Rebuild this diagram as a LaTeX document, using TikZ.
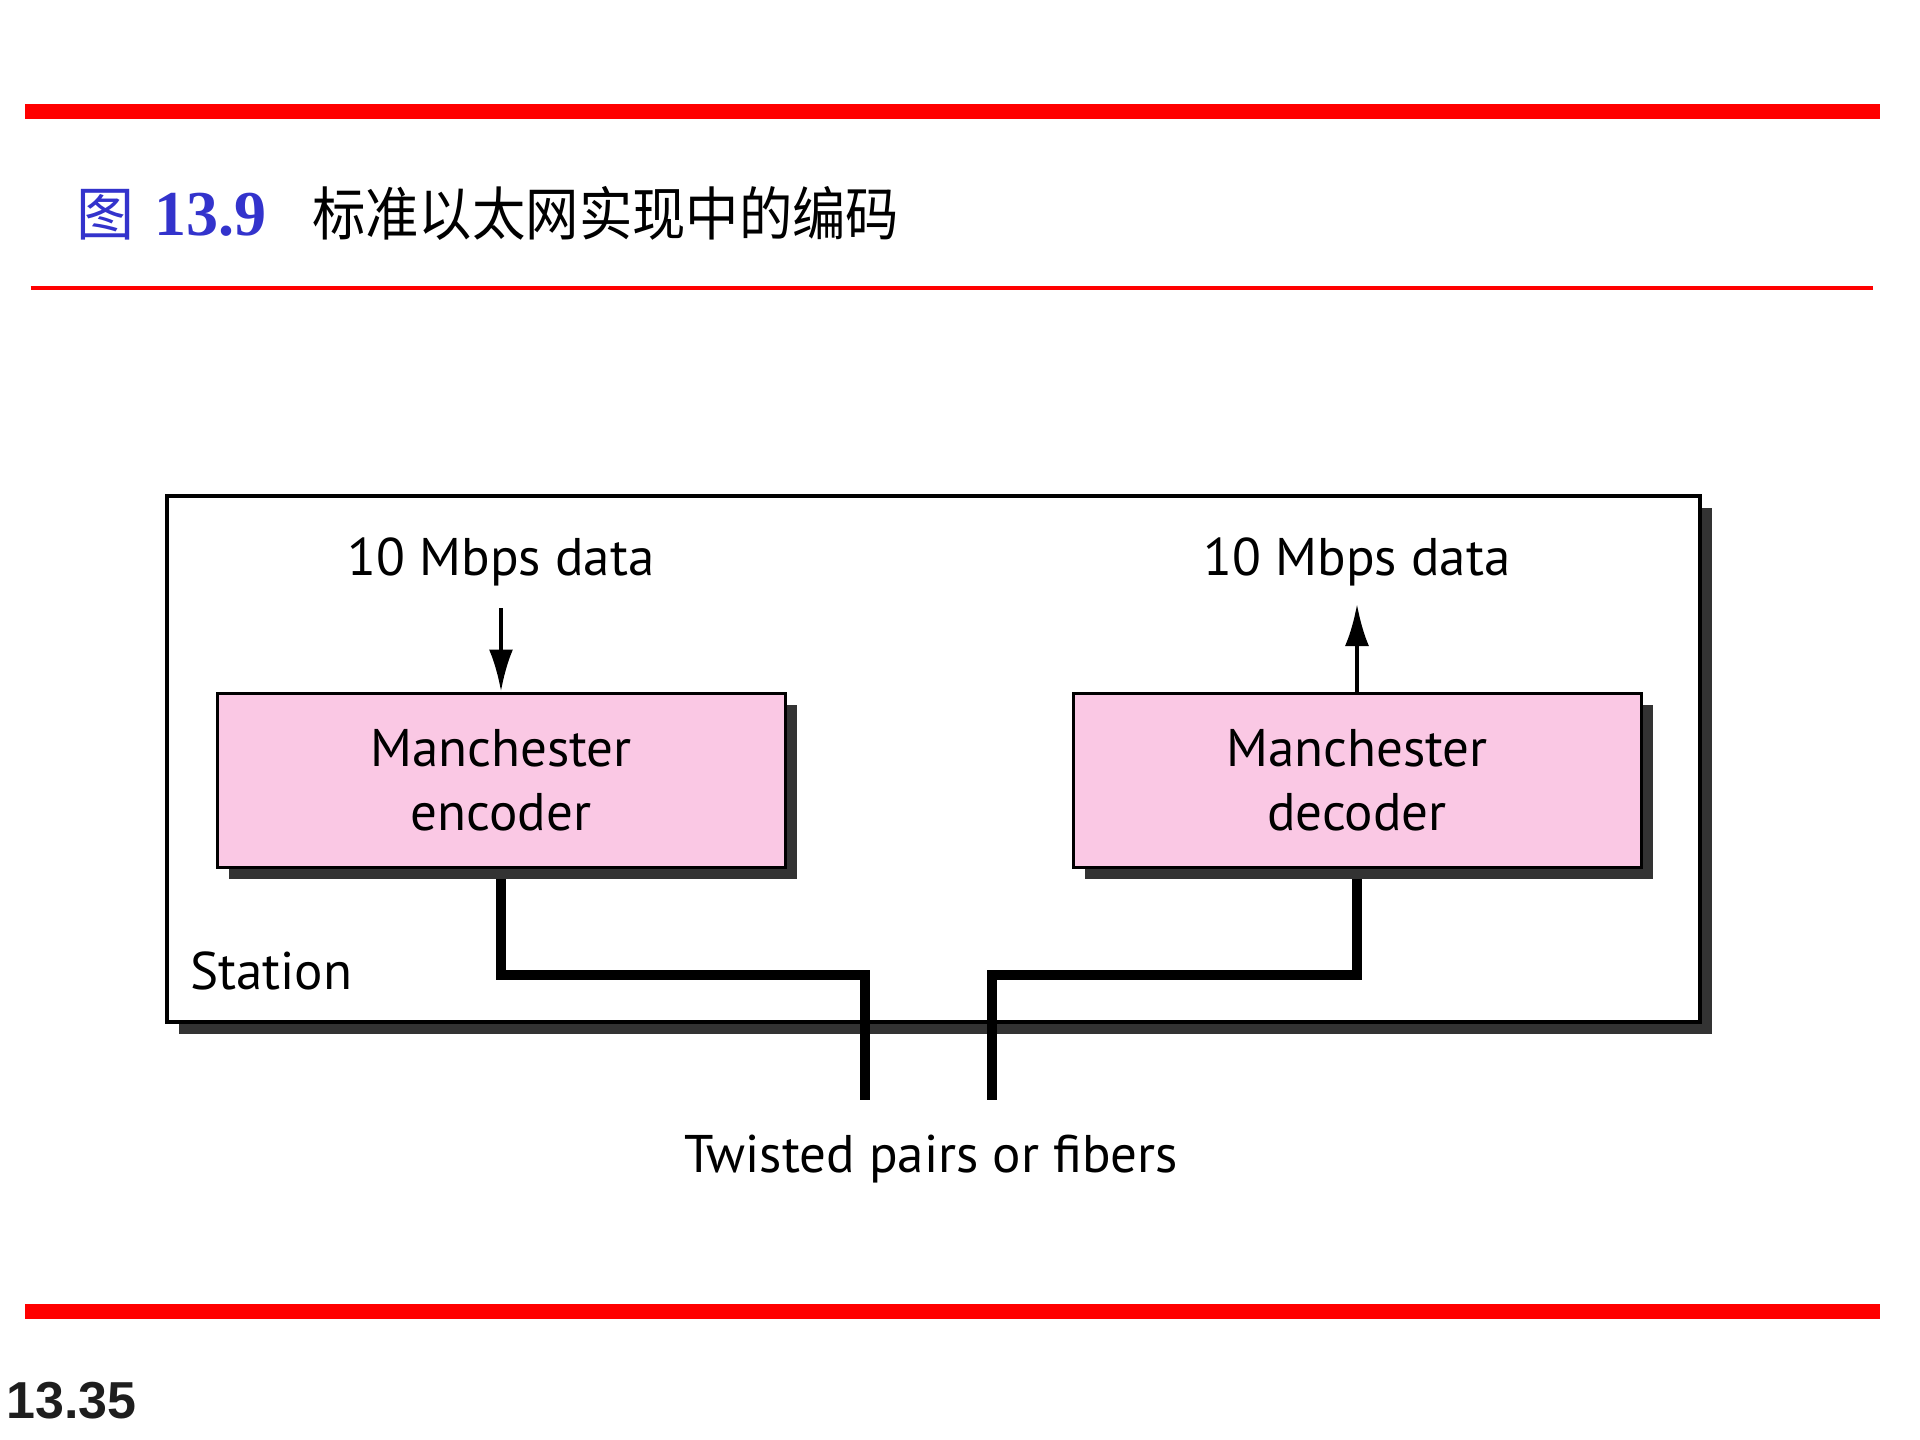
\documentclass[tikz,border=0pt]{standalone}
\usepackage{fontspec}
\setmainfont{PT Sans}
\newfontfamily\cjk{Noto Sans CJK SC}
\newfontfamily\cjknarrow[FakeStretch=0.92]{Noto Sans CJK SC}
\newfontfamily\serifnum{Liberation Serif}
\newfontfamily\arialf{Liberation Sans}
\usetikzlibrary{arrows.meta,shadows}
\definecolor{slidered}{RGB}{255,0,0}
\definecolor{figblue}{RGB}{51,51,204}
\definecolor{boxpink}{RGB}{250,200,228}
\definecolor{shadowgray}{RGB}{51,51,51}
\begin{document}
\begin{tikzpicture}[x=1pt,y=-1pt,
  difont/.style={font=\fontsize{53}{64}\selectfont},
  stationbox/.style={draw=black, line width=4pt, fill=white, inner sep=0pt,
    drop shadow={shadow xshift=12pt, shadow yshift=-12pt, fill=shadowgray, opacity=1}},
  codebox/.style={draw=black, line width=3pt, fill=boxpink, inner sep=0pt,
    minimum width=568pt, minimum height=174pt, align=center, difont,
    drop shadow={shadow xshift=12pt, shadow yshift=-12pt, fill=shadowgray, opacity=1}},
  wire/.style={line width=10.5pt, line join=miter, line cap=butt},
  dataarrow/.style={line width=4pt, -{Latex[length=42pt,width=24pt]}},
  lbl/.style={inner sep=0pt, difont}
]
\useasboundingbox (0,0) rectangle (1920,1440);
% slide decoration
\fill[slidered] (24.5,104) rectangle (1880,119);
\draw[slidered, line width=3.5pt] (30.6,288) -- (1873,288);
\fill[slidered] (24.5,1304) rectangle (1880,1319);
\node[anchor=base west, inner sep=0pt, text=figblue] (fig) at (76,235)
  {\fontsize{58}{58}\selectfont\cjk 图\hspace{20pt}\serifnum\bfseries\fontsize{64}{64}\selectfont 13.9};
\node[anchor=base west, inner sep=0pt] (title) at (312,235)
  {\fontsize{58}{58}\selectfont\cjknarrow 标准以太网实现中的编码};
\node[anchor=base west, inner sep=0pt, text={rgb,255:red,30;green,30;blue,30}] (pageno) at (6,1418)
  {\fontsize{52}{52}\selectfont\arialf\bfseries 13.35};
% station
\node[stationbox, minimum width=1533pt, minimum height=526pt] (station) at (933,759) {};
\node[lbl, anchor=base west] (stlbl) at (190,989) {Station};
% coordinates
\coordinate (jy) at (0,975);
\coordinate (lend) at (865,1100);
\coordinate (rend) at (992,1100);
\coordinate (intop) at (0,608);
\coordinate (outtop) at (0,604);
% wires
\coordinate (encs) at (501,867);
\coordinate (decs) at (1357,867);
\draw[wire] (encs) -- (encs |- jy) -| (lend);
\draw[wire] (decs) -- (decs |- jy) -| (rend);
% boxes
\node[codebox] (enc) at (501,780) {Manchester\\encoder};
\node[codebox] (dec) at (1357,780) {Manchester\\decoder};
% data labels
\node[lbl, anchor=base] (inlbl) at (501,575) {10 Mbps data};
\node[lbl, anchor=base] (outlbl) at (1357,575) {10 Mbps data};
\draw[dataarrow] (enc.north |- intop) -- (enc.north);
\draw[dataarrow] (dec.north) -- (dec.north |- outtop);
\node[lbl, anchor=base] (twlbl) at (931,1172) {Twisted pairs or fibers};
\end{tikzpicture}
\end{document}
